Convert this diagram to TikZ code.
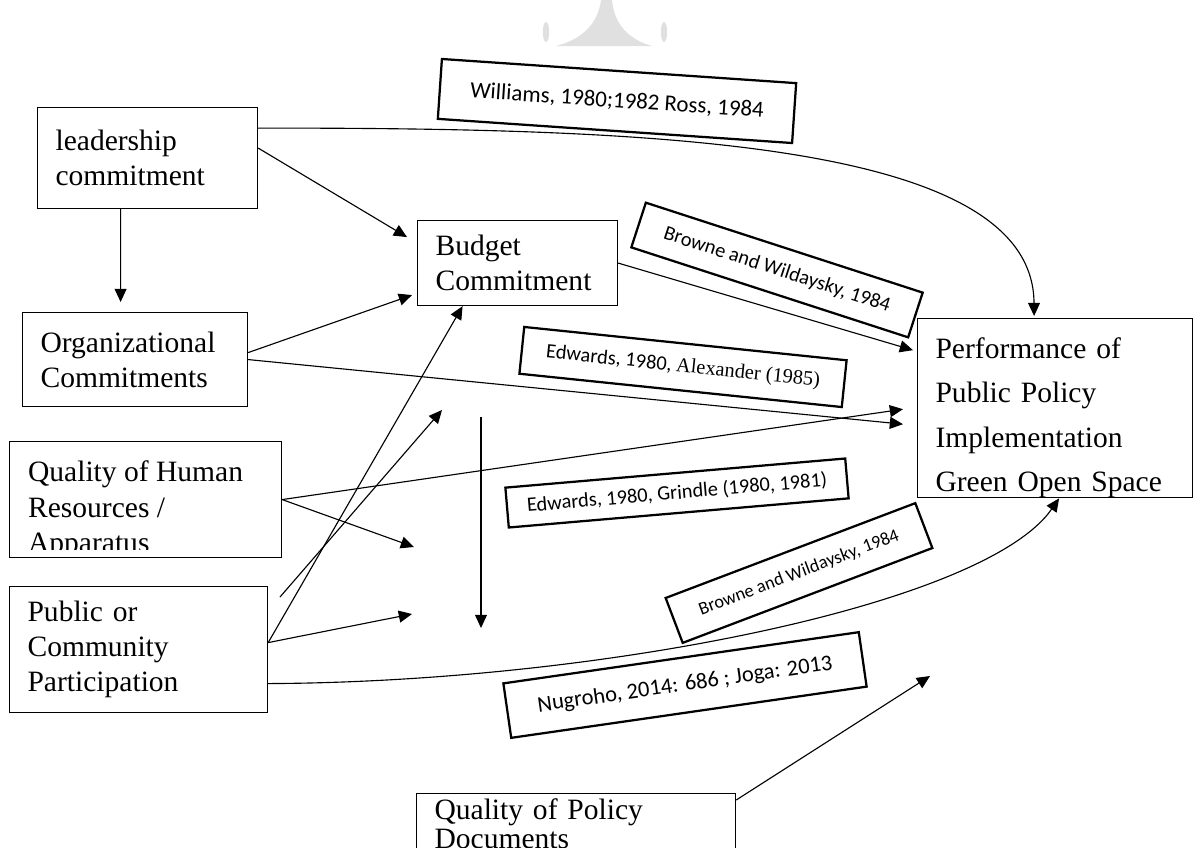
\documentclass[tikz,border=0pt]{standalone}
\usepackage{fontspec}
\setmainfont{Liberation Serif}
\newfontfamily\calib{Carlito}
\usetikzlibrary{arrows.meta}
\tikzset{
blk/.style={draw,line width=0.8pt,anchor=north west,inner xsep=0.45cm,inner ysep=0pt,align=left,font=\fontsize{21}{25}\selectfont},
cite/.style={draw,line width=1.6pt,inner sep=0pt,font=\calib\fontsize{16}{18}\selectfont},
arr/.style={line width=0.8pt,-{Triangle[length=0.33cm,width=0.3cm]}},
lnk/.style={line width=0.8pt}
}
\begin{document}
\begin{tikzpicture}[x=0.025cm,y=-0.025cm]
\useasboundingbox (0,0) rectangle (1197,848);
\clip (0,0) rectangle (1197,848);
\fill[black!12] (601,0) -- (612,0) .. controls (614,25) and (630,40) .. (652,46) -- (556,46) .. controls (580,40) and (598,25) .. (601,0);
\fill[black!12] (546,32) ellipse (0.08cm and 0.25cm);
\fill[black!12] (664,32) ellipse (0.08cm and 0.25cm);
\node[blk,minimum width=5.5cm,minimum height=2.525cm,text width=4.6cm] (lead) at (37,107) {leadership\\commitment};
\node[blk,minimum width=5cm,minimum height=2.125cm,text width=4.1cm] (bud) at (417,220) {Budget\\Commitment};
\node[blk,minimum width=5.625cm,minimum height=2.35cm,text width=4.725cm] (org) at (22,312) {Organizational\\Commitments};
\node[blk,minimum width=6.8cm,minimum height=2.9cm,path picture={
  \clip (path picture bounding box.north west) rectangle ([shift={(0,-8)}]path picture bounding box.south east);
  \node[anchor=north west,inner sep=0pt,minimum width=0pt,minimum height=0pt,align=left,font=\fontsize{21}{25}\selectfont] at ([shift={(18,19)}]path picture bounding box.north west) {Quality of Human\\Resources /\\Apparatus};}] (hr) at (9,441) {};
\node[blk,minimum width=6.45cm,minimum height=3.15cm,text width=5.55cm] (pub) at (9,586) {Public or\\Community\\Participation};
\node[blk,minimum width=6.875cm,minimum height=4.475cm,text width=5.975cm,font=\fontsize{21}{31.5}\selectfont] (perf) at (917,318) {\rule{0pt}{28.5pt}Performance of\\Public Policy\\Implementation\\Green Open Space};
\node[blk,minimum width=7.975cm,text width=7.075cm,inner ysep=0.14cm,font=\fontsize{21}{20.5}\selectfont] (pol) at (416,793) {Quality of Policy\\Documents};
\node[cite,minimum width=8.875cm,minimum height=1.5cm,rotate=-3.9,font=\calib\fontsize{16.3}{18}\selectfont] (wil) at (617,101) {Williams, 1980;1982 Ross, 1984};
\node[cite,minimum width=7.275cm,minimum height=1.175cm,rotate=-18,font=\calib\fontsize{14.5}{16}\selectfont] (bro1) at (777,270) {Browne and Wildaysky, 1984};
\node[cite,minimum width=8.1cm,minimum height=1.175cm,rotate=-5.9,font=\calib\fontsize{14.5}{16}\selectfont] (edw1) at (683,367) {Edwards, 1980, {\rmfamily Alexander (1985)}};
\node[cite,minimum width=8.525cm,minimum height=1cm,rotate=4.9,font=\calib\fontsize{14.5}{16}\selectfont] (edw2) at (677,493) {Edwards, 1980, Grindle (1980, 1981)};
\node[cite,minimum width=6.675cm,minimum height=1.2cm,rotate=20.8,font=\calib\fontsize{13}{15}\selectfont] (bro2) at (799,573) {Browne and Wildaysky, 1984};
\node[cite,minimum width=8.975cm,minimum height=1.375cm,rotate=8.2] (nug) at (685,685) {Nugroho, 2014: 686 ; Joga: 2013};
\coordinate (hrend) at (414,547);
\coordinate (stub) at (280,597);
\coordinate (stubend) at (442,410);
\coordinate (pubend) at (412,614);
\coordinate (vtop) at (481,417);
\coordinate (vbot) at (481,628);
\coordinate (polend) at (930,676);
\draw[arr] ([shift={(0,-10)}]lead.east) -- ([shift={(-10,-26)}]bud.west);
\draw[arr] ([shift={(0,-30)}]lead.east) .. controls (650,128) and (1033,140) .. ([shift={(-21,-2)}]perf.north);
\draw[arr] ([shift={(-27,0)}]lead.south) -- ([shift={(-14.5,-10)}]org.north);
\draw[arr] ([shift={(0,-7)}]org.east) -- ([shift={(-5,32)}]bud.west);
\draw[arr] (org.east) -- ([shift={(-14,16)}]perf.west);
\draw[arr] (hr.east) -- ([shift={(-14,1)}]perf.west);
\draw[arr] (hr.east) -- (hrend);
\draw[arr] ([shift={(0,-7)}]pub.east) -- ([shift={(-55,0)}]bud.south);
\draw[arr] (stub) -- (stubend);
\draw[arr] ([shift={(0,-7)}]pub.east) -- (pubend);
\draw[arr] (vtop) -- (vbot);
\draw[arr] (bud.east) -- ([shift={(-4,-58)}]perf.west);
\draw[arr] ([shift={(0,34)}]pub.east) .. controls (600,682) and (985,605) .. ([shift={(4,0)}]perf.south);
\draw[arr] ([shift={(0,7)}]pol.north east) -- (polend);
\end{tikzpicture}
\end{document}
